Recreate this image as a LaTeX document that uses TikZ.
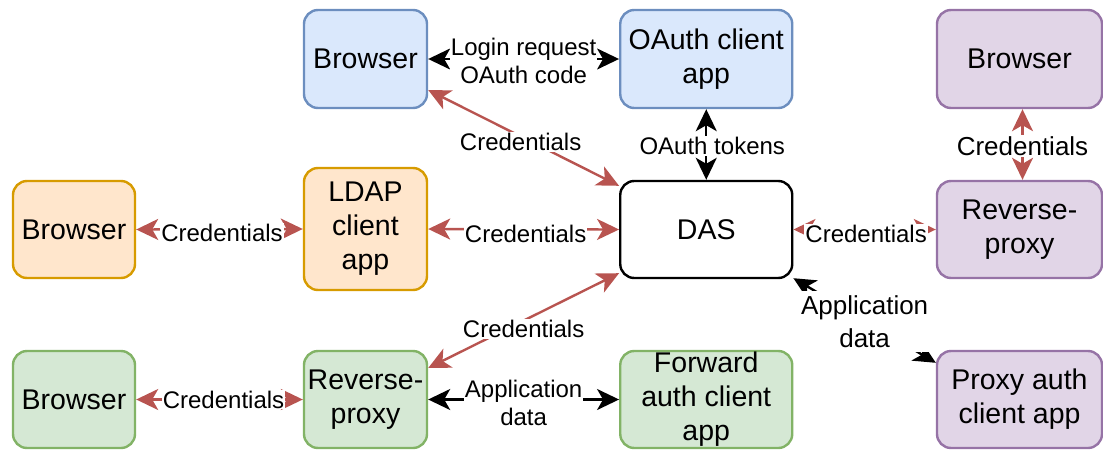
\documentclass[tikz,border=0pt]{standalone}
\usepackage{fontspec}
\setmainfont{Liberation Sans}
\usetikzlibrary{arrows.meta}

\definecolor{bluefill}{HTML}{DAE8FC}
\definecolor{bluedraw}{HTML}{6C8EBF}
\definecolor{orangefill}{HTML}{FFE6CC}
\definecolor{orangedraw}{HTML}{D79B00}
\definecolor{greenfill}{HTML}{D5E8D4}
\definecolor{greendraw}{HTML}{82B366}
\definecolor{purplefill}{HTML}{E1D5E7}
\definecolor{purpledraw}{HTML}{9673A6}
\definecolor{credred}{HTML}{B85450}

\begin{document}
\begin{tikzpicture}[x=1pt,y=-1pt,
  box/.style={rounded corners=14pt, line width=2.4pt, inner sep=0pt,
    align=center, font=\fontsize{28.5}{34}\selectfont},
  bluebox/.style={box, fill=bluefill, draw=bluedraw},
  orangebox/.style={box, fill=orangefill, draw=orangedraw},
  greenbox/.style={box, fill=greenfill, draw=greendraw},
  purplebox/.style={box, fill=purplefill, draw=purpledraw},
  plainbox/.style={box, fill=white, draw=black},
  narrow/.style={minimum width=123pt, minimum height=97pt},
  wide/.style={minimum width=172pt, minimum height=97pt},
  side/.style={minimum width=165pt, minimum height=97pt},
  link/.style={line width=2.4pt,
    arrows={Stealth[length=22pt,width=21pt,inset=6pt]-Stealth[length=22pt,width=21pt,inset=6pt]}},
  cred/.style={link, draw=credred},
  data/.style={link, draw=black},
  lbl/.style={fill=white, inner sep=1pt, align=center, text=black,
    font=\fontsize{24}{28}\selectfont},
  biglbl/.style={lbl, font=\fontsize{26}{33}\selectfont}
]
\useasboundingbox (0,0) rectangle (1103,450);

% top row: OAuth flow
\node[bluebox, narrow, minimum height=98pt] (b1) at (365.5,59) {Browser};
\node[bluebox, wide, minimum height=98pt] (oauth) at (706.25,59) {OAuth client\\app};
\node[purplebox, side, minimum height=98pt] (pb) at (1019.5,59) {Browser};

% middle row: LDAP and the authentication server
\node[orangebox, minimum width=122pt, minimum height=97pt] (ob) at (74,229.5) {Browser};
\node[orangebox, minimum width=123pt, minimum height=122pt] (ldap) at (365.5,229) {LDAP\\client\\app};
\node[plainbox, wide] (das) at (706.25,229.5) {DAS};
\node[purplebox, side] (prp) at (1019.5,229.5) {Reverse-\\proxy};

% bottom row: forward auth and proxy auth
\node[greenbox, minimum width=122pt, minimum height=97pt] (gb) at (74,399.5) {Browser};
\node[greenbox, narrow] (grp) at (365.5,399.5) {Reverse-\\proxy};
\node[greenbox, wide] (fwd) at (706.25,399.5) {Forward\\auth client\\app};
\node[purplebox, side] (pac) at (1019.5,399.5) {Proxy auth\\client app};

% OAuth connectors
\draw[data] (b1.east) -- (oauth.west)
  node[lbl, midway, yshift=-2pt] {Login request\\OAuth code};
\draw[cred] ([yshift=-31pt]b1.east) -- ([yshift=-6pt]das.north west)
  node[lbl, midway, xshift=-3pt, yshift=-4pt] {Credentials};
\draw[data] (oauth.south) -- (das.north)
  node[lbl, midway, xshift=6pt, yshift=-1.5pt] {OAuth tokens};

% LDAP connectors
\draw[cred] (ob.east) -- (ldap.west)
  node[lbl, midway, xshift=2.5pt, yshift=-4pt] {Credentials};
\draw[cred] (ldap.east) -- (das.west)
  node[lbl, midway, xshift=2pt, yshift=-4.5pt] {Credentials};

% forward auth connectors
\draw[cred] (gb.east) -- (grp.west)
  node[lbl, midway, xshift=4pt] {Credentials};
\draw[cred] ([yshift=31.5pt]grp.east) -- ([yshift=6pt]das.south west)
  node[lbl, midway, yshift=-8.5pt] {Credentials};
\draw[data] (grp.east) -- (fwd.west)
  node[lbl, midway, yshift=-3pt] {Application\\data};

% proxy auth connectors
\draw[cred] ([xshift=3pt]pb.south) -- ([xshift=3pt]prp.north)
  node[biglbl, midway, yshift=-1.5pt] {Credentials};
\draw[cred] (das.east) -- (prp.west)
  node[lbl, midway, xshift=1.5pt, yshift=-4pt] {Credentials};
\draw[data] ([yshift=1pt]das.south east) -- ([yshift=-13pt]pac.north west)
  node[biglbl, midway, inner xsep=3pt, inner ysep=4pt, yshift=-1pt] {Application\\data};
\end{tikzpicture}
\end{document}
